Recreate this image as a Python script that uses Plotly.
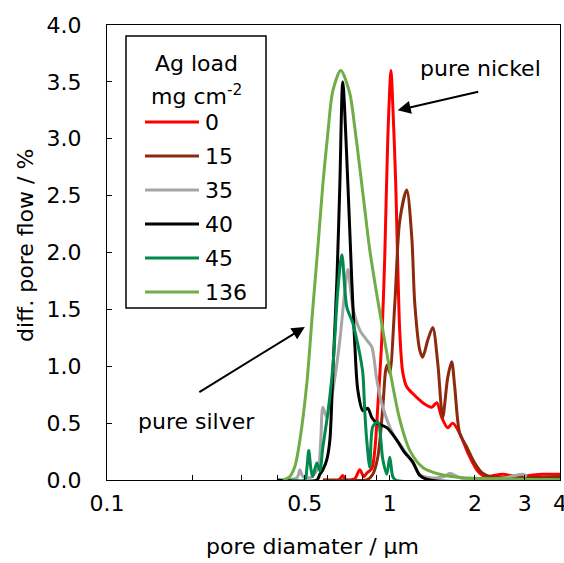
import math
import plotly.graph_objects as go

# ---- data ----
series_names = ["0", "15", "35", "40", "45", "136"]
series_colors = ["#FF0000", "#8B2A0C", "#A6A6A6", "#000000", "#008A4E", "#70AD47"]

x_0 = [0.58, 0.66, 0.682, 0.70, 0.752, 0.783, 0.81, 0.829, 0.864, 0.885, 0.907, 0.937, 0.960,
       0.984, 1.01, 1.025, 1.050, 1.067, 1.085, 1.111, 1.148, 1.206, 1.308, 1.407, 1.466, 1.527,
       1.603, 1.670, 1.768, 1.887, 2.030, 2.13, 2.20, 2.51, 2.81, 3.12, 3.47, 3.92, 4.0]
y_0 = [0, 0, 0.04, 0, 0.01, 0.09, 0.03, 0.06, 0.10, 0.26, 0.64, 1.23, 1.96,
       3.0, 3.6, 3.3, 2.6, 1.9, 1.3, 0.95, 0.82, 0.76, 0.68, 0.64, 0.68, 0.55,
       0.46, 0.50, 0.41, 0.24, 0.09, 0.04, 0.03, 0.05, 0.03, 0.04, 0.05, 0.05, 0.05]

x_15 = [0.58, 0.70, 0.829, 0.871, 0.907, 0.945, 0.968, 0.980, 1.0, 1.042, 1.085, 1.148, 1.196,
        1.226, 1.277, 1.308, 1.363, 1.419, 1.478, 1.539, 1.603, 1.656, 1.697, 1.768, 1.872,
        1.997, 2.13, 2.26, 3.0, 4.0]
y_15 = [0, 0, 0, 0.05, 0.2, 0.64, 0.97, 1.01, 0.94, 1.55, 2.28, 2.55, 2.14,
        1.55, 1.14, 1.08, 1.23, 1.34, 1.03, 0.55, 0.90, 1.04, 0.82, 0.41, 0.29,
        0.15, 0.06, 0.03, 0.02, 0.03]

x_35 = [0.419, 0.470, 0.481, 0.493, 0.522, 0.557, 0.570, 0.580, 0.599, 0.629, 0.666, 0.694,
        0.711, 0.740, 0.783, 0.829, 0.864, 0.900, 0.945, 1.025, 1.110, 1.206, 1.277, 1.385,
        1.560, 1.630, 1.768, 2.45, 2.95, 3.05]
y_35 = [0, 0.02, 0.09, 0.03, 0.02, 0.10, 0.35, 0.64, 0.55, 0.79, 1.23, 1.67,
        1.85, 1.52, 1.32, 1.23, 1.17, 0.88, 0.64, 0.41, 0.28, 0.15, 0.05, 0.02,
        0.03, 0.06, 0.02, 0.01, 0.05, 0.03]

x_40 = [0.40, 0.552, 0.566, 0.580, 0.599, 0.614, 0.629, 0.650, 0.666, 0.682, 0.711, 0.734,
        0.752, 0.771, 0.803, 0.836, 0.864, 0.900, 0.976, 1.059, 1.130, 1.206, 1.277, 1.385, 4.0]
y_40 = [0, 0, 0.05, 0.09, 0.18, 0.35, 0.94, 1.75, 2.6, 3.5, 2.6, 1.75,
        1.2, 0.79, 0.61, 0.63, 0.55, 0.50, 0.46, 0.35, 0.24, 0.16, 0.04, 0, 0]

x_45 = [0.45, 0.501, 0.509, 0.517, 0.526, 0.534, 0.552, 0.566, 0.580, 0.604, 0.629, 0.655,
        0.677, 0.705, 0.740, 0.765, 0.783, 0.803, 0.816, 0.829, 0.850, 0.871, 0.907, 0.945,
        0.976, 1.0, 1.025, 1.050, 4.0]
y_45 = [0, 0, 0.10, 0.26, 0.10, 0.03, 0.15, 0.08, 0.29, 0.59, 0.99, 1.67,
        1.98, 1.52, 1.38, 1.23, 1.11, 0.94, 0.60, 0.35, 0.11, 0.47, 0.51, 0.18,
        0.05, 0.20, 0.03, 0, 0]

x_136 = [0.419, 0.443, 0.462, 0.481, 0.509, 0.534, 0.557, 0.580, 0.604, 0.629, 0.671, 0.722,
         0.752, 0.783, 0.816, 0.850, 0.907, 0.960, 1.0, 1.085, 1.177, 1.308, 1.502, 1.811,
         2.45, 4.0]
y_136 = [0, 0.03, 0.12, 0.35, 0.85, 1.5, 2.05, 2.6, 3.05, 3.42, 3.6, 3.4,
         3.1, 2.75, 2.38, 2.02, 1.58, 1.22, 0.97, 0.53, 0.26, 0.11, 0.05, 0.02,
         0.01, 0.0]

xs = [x_0, x_15, x_35, x_40, x_45, x_136]
ys = [y_0, y_15, y_35, y_40, y_45, y_136]

x_tick_vals = [0.1, 0.5, 1, 2, 3, 4]
x_tick_text = ["0.1", "0.5", "1", "2", "3", "4"]
x_minor_vals = [0.2, 0.3, 0.4, 0.6, 0.7, 0.8, 0.9]
y_tick_vals = [0, 0.5, 1, 1.5, 2, 2.5, 3, 3.5, 4]
y_tick_text = ["0.0", "0.5", "1.0", "1.5", "2.0", "2.5", "3.0", "3.5", "4.0"]

legend_title = ["Ag load", "mg cm<sup>-2</sup>"]
x_title = "pore diamater / µm"
y_title = "diff. pore flow / %"

FONT = "DejaVu Sans, Liberation Sans, Arial, sans-serif"
FS = 22

# layout geometry (pixels)
W, H = 564, 563
ML, MR, MT, MB = 107, 4, 25, 83
PW, PH = W - ML - MR, H - MT - MB


def px(xp):
    return (xp - ML) / PW


def py(yp):
    return (H - MB - yp) / PH


fig = go.Figure()
for name, color, x, y in zip(series_names, series_colors, xs, ys):
    fig.add_trace(go.Scatter(
        x=x, y=y, name=name, mode="lines",
        line=dict(color=color, width=3, shape="spline", smoothing=0.8),
        showlegend=False,
    ))

fig.update_layout(
    width=W, height=H,
    margin=dict(l=ML, r=MR, t=MT, b=MB),
    paper_bgcolor="white", plot_bgcolor="white",
    font=dict(family=FONT, size=FS, color="black"),
    showlegend=False,
)

fig.update_xaxes(
    type="log", range=[-1, math.log10(4)],
    tickvals=x_tick_vals, ticktext=x_tick_text,
    ticks="inside", ticklen=5, tickwidth=1.3, tickcolor="black",
    minor=dict(tickvals=x_minor_vals, ticks="inside", ticklen=5, tickwidth=1.3, tickcolor="black"),
    showline=True, linecolor="black", linewidth=1.3, mirror=True,
    showgrid=False, zeroline=False, automargin=False,
    ticklabeloverflow="allow", ticklabelstandoff=3,
    tickfont=dict(size=FS),
)
fig.update_yaxes(
    range=[0, 4],
    tickvals=y_tick_vals, ticktext=y_tick_text,
    ticks="inside", ticklen=5, tickwidth=1.3, tickcolor="black",
    showline=True, linecolor="black", linewidth=1.3, mirror=True,
    showgrid=False, zeroline=False, automargin=False,
    ticklabelstandoff=20,
    tickfont=dict(size=FS),
)

# axis titles
fig.add_annotation(x=px(312), y=py(546), xref="paper", yref="paper", text=x_title,
                   showarrow=False, xanchor="center", yanchor="middle", font=dict(size=FS))
fig.add_annotation(x=px(25), y=py(246), xref="paper", yref="paper", text=y_title,
                   showarrow=False, xanchor="center", yanchor="middle", textangle=-90,
                   font=dict(size=FS))

# manual legend (box, title, line samples, labels)
LEG_L, LEG_R, LEG_T, LEG_B = 126, 266, 36, 308
fig.add_shape(type="rect", xref="paper", yref="paper",
              x0=px(LEG_L), x1=px(LEG_R), y0=py(LEG_B), y1=py(LEG_T),
              line=dict(color="black", width=1.5), fillcolor="white", layer="above")
for i, t in enumerate(legend_title):
    fig.add_annotation(x=px((LEG_L + LEG_R) / 2), y=py(63 + 32 * i), xref="paper", yref="paper",
                       text=t, showarrow=False, xanchor="center", yanchor="middle",
                       font=dict(size=FS))
for i, (name, color) in enumerate(zip(series_names, series_colors)):
    yy = 122 + 34 * i
    fig.add_shape(type="line", xref="paper", yref="paper",
                  x0=px(145), x1=px(199), y0=py(yy), y1=py(yy),
                  line=dict(color=color, width=3), layer="above")
    fig.add_annotation(x=px(203), y=py(yy), xref="paper", yref="paper", text=name,
                       showarrow=False, xanchor="left", yanchor="middle", font=dict(size=FS))

# annotations with arrows (data positions, log axis -> log10)
nickel_tip = (1.067, 3.25)
nickel_text = (2.097, 3.62)
silver_tip = (0.5008, 1.345)
silver_text = (0.208, 0.51)

fig.add_annotation(x=math.log10(nickel_tip[0]), y=nickel_tip[1], xref="x", yref="y", text="",
                   showarrow=True, ax=82, ay=-19, arrowhead=2, arrowsize=1.3, arrowwidth=2,
                   arrowcolor="black")
fig.add_annotation(x=math.log10(nickel_text[0]), y=nickel_text[1], xref="x", yref="y",
                   text="pure nickel", showarrow=False, font=dict(size=FS))
fig.add_annotation(x=math.log10(silver_tip[0]), y=silver_tip[1], xref="x", yref="y", text="",
                   showarrow=True, ax=-107, ay=66, arrowhead=2, arrowsize=1.3, arrowwidth=2,
                   arrowcolor="black")
fig.add_annotation(x=math.log10(silver_text[0]), y=silver_text[1], xref="x", yref="y",
                   text="pure silver", showarrow=False, font=dict(size=FS))

fig.write_html("out.html")
